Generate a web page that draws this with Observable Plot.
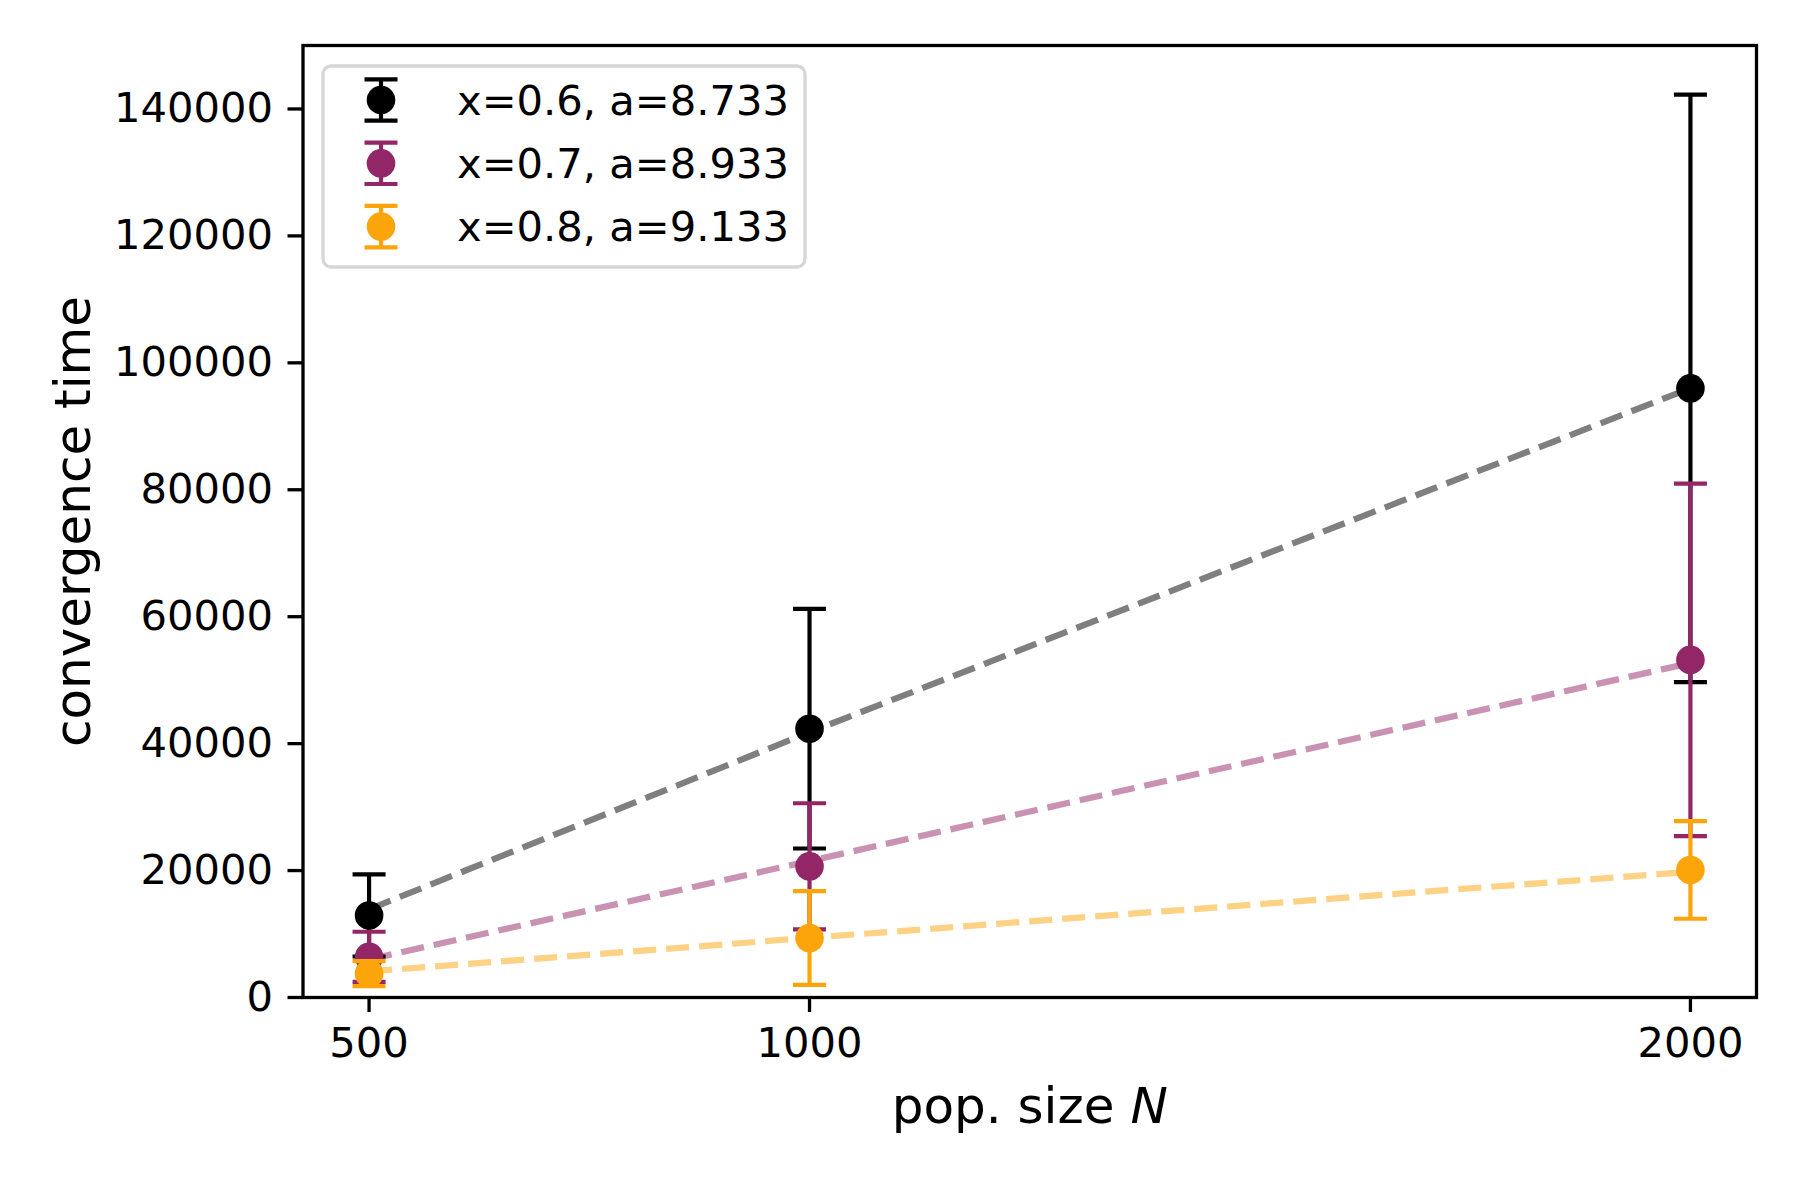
<!DOCTYPE html>
<html>
<head>
<meta charset="utf-8">
<script src="https://cdn.jsdelivr.net/npm/d3@7"></script>
<script src="https://cdn.jsdelivr.net/npm/@observablehq/plot@0.6"></script>
<style>
html, body { margin: 0; padding: 0; background: #fff; }
#chart { position: relative; width: 1800px; height: 1200px; }
</style>
</head>
<body>
<div id="chart"></div>
<script>
// ---- data ----
const popSizes = [500, 1000, 2000];
const seriesLabels = ["x=0.6, a=8.733", "x=0.7, a=8.933", "x=0.8, a=9.133"];
const seriesColors = ["#000000", "#932667", "#fca50a"];

const meanX06 = [12930, 42350, 95980];
const errX06  = [6470, 18870, 46290];
const meanX07 = [6415, 20675, 53205];
const errX07  = [3945, 9935, 27775];
const meanX08 = [3760, 9370, 20095];
const errX08  = [1960, 7390, 7685];

const fitX06 = [13900, 41800, 96000];
const fitX07 = [6000, 21500, 52700];
const fitX08 = [4100, 9400, 19800];

const xTicks = [500, 1000, 2000];
const yTicks = [0, 20000, 40000, 60000, 80000, 100000, 120000, 140000];
const xDomain = [425, 2075];
const yDomain = [0, 150000];

// ---- tables ----
const means = [meanX06, meanX07, meanX08];
const errs = [errX06, errX07, errX08];
const fitsArr = [fitX06, fitX07, fitX08];

const points = seriesLabels.flatMap((s, i) => popSizes.map((N, j) => ({
  series: s, N, mean: means[i][j], lo: means[i][j] - errs[i][j], hi: means[i][j] + errs[i][j]
})));
const fits = seriesLabels.flatMap((s, i) => popSizes.map((N, j) => ({series: s, N, fit: fitsArr[i][j]})));

const capSymbol = {
  draw(ctx, size) {
    const r = Math.sqrt(size / Math.PI);
    ctx.moveTo(-r, 0);
    ctx.lineTo(r, 0);
  }
};

const FONT = "DejaVu Sans";
const W = 1800, H = 1200;
const mL = 302.5, mR = 44, mT = 45, mB = 203;

const marks = [];
// dashed fit lines
seriesLabels.forEach((s, i) => {
  marks.push(Plot.line(fits.filter(d => d.series === s), {
    x: "N", y: "fit", stroke: seriesColors[i], strokeOpacity: 0.5,
    strokeWidth: 6.25, strokeDasharray: "23.1,10", strokeLinecap: "butt"
  }));
});
// error bars and points
seriesLabels.forEach((s, i) => {
  const data = points.filter(d => d.series === s);
  marks.push(Plot.ruleX(data, {x: "N", y1: "lo", y2: "hi", stroke: seriesColors[i], strokeWidth: 4.2}));
  marks.push(Plot.dot(data, {x: "N", y: "hi", symbol: capSymbol, r: 16.5, stroke: seriesColors[i], fill: "none", strokeWidth: 4.2}));
  marks.push(Plot.dot(data, {x: "N", y: "lo", symbol: capSymbol, r: 16.5, stroke: seriesColors[i], fill: "none", strokeWidth: 4.2}));
  marks.push(Plot.dot(data, {x: "N", y: "mean", r: 14.3, fill: seriesColors[i], stroke: "none"}));
});

marks.push(Plot.frame({stroke: "black", strokeWidth: 3.3}));
marks.push(Plot.axisY({ticks: yTicks, tickSize: 15, tickPadding: 15, tickFormat: d3.format("d"), label: null, strokeWidth: 3.3}));
marks.push(Plot.axisX({ticks: xTicks, tickSize: 15, tickPadding: 15, tickFormat: d3.format("d"), label: null, strokeWidth: 3.3}));
marks.push(Plot.text(["convergence time"], {text: d => d, frameAnchor: "left", textAnchor: "middle", lineAnchor: "middle", dx: -(mL - 73), rotate: -90, fontSize: 50, fill: "black"}));
marks.push(Plot.text(["pop. size N"], {text: d => d, frameAnchor: "bottom", textAnchor: "middle", lineAnchor: "middle", dy: 109, fontSize: 50, fill: "black"}));

const plot = Plot.plot({
  width: W, height: H,
  marginLeft: mL, marginRight: mR, marginTop: mT, marginBottom: mB,
  x: {type: "linear", domain: xDomain},
  y: {type: "linear", domain: yDomain},
  style: {fontFamily: FONT, fontSize: "41.67px", background: "#fff", color: "black"},
  marks
});
document.getElementById("chart").appendChild(plot);

const svg = d3.select(plot);
// italic N in x label
svg.selectAll("text").filter(function() { return this.textContent === "pop. size N"; }).each(function() {
  const t = d3.select(this);
  t.text(null);
  t.append("tspan").text("pop. size ");
  t.append("tspan").attr("font-style", "italic").text("N");
});

// legend
const lg = svg.append("g").attr("font-family", FONT).attr("font-size", 41.67).attr("text-anchor", "start");
lg.append("rect").attr("x", 323).attr("y", 66).attr("width", 482).attr("height", 201)
  .attr("rx", 8).attr("fill", "rgba(255,255,255,0.8)").attr("stroke", "#d6d6d6").attr("stroke-width", 3.3);
seriesLabels.forEach((s, i) => {
  const cy = 100 + i * 63.3, cx = 381, c = seriesColors[i];
  lg.append("line").attr("x1", cx).attr("x2", cx).attr("y1", cy - 20.7).attr("y2", cy + 20.7).attr("stroke", c).attr("stroke-width", 4.2);
  [-20.7, 20.7].forEach(o => lg.append("line").attr("x1", cx - 16.5).attr("x2", cx + 16.5).attr("y1", cy + o).attr("y2", cy + o).attr("stroke", c).attr("stroke-width", 4.2));
  lg.append("circle").attr("cx", cx).attr("cy", cy).attr("r", 14.3).attr("fill", c);
  lg.append("text").attr("x", 457).attr("y", cy + 14.5).attr("text-anchor", "start").attr("fill", "black").text(s);
});
</script>
</body>
</html>
